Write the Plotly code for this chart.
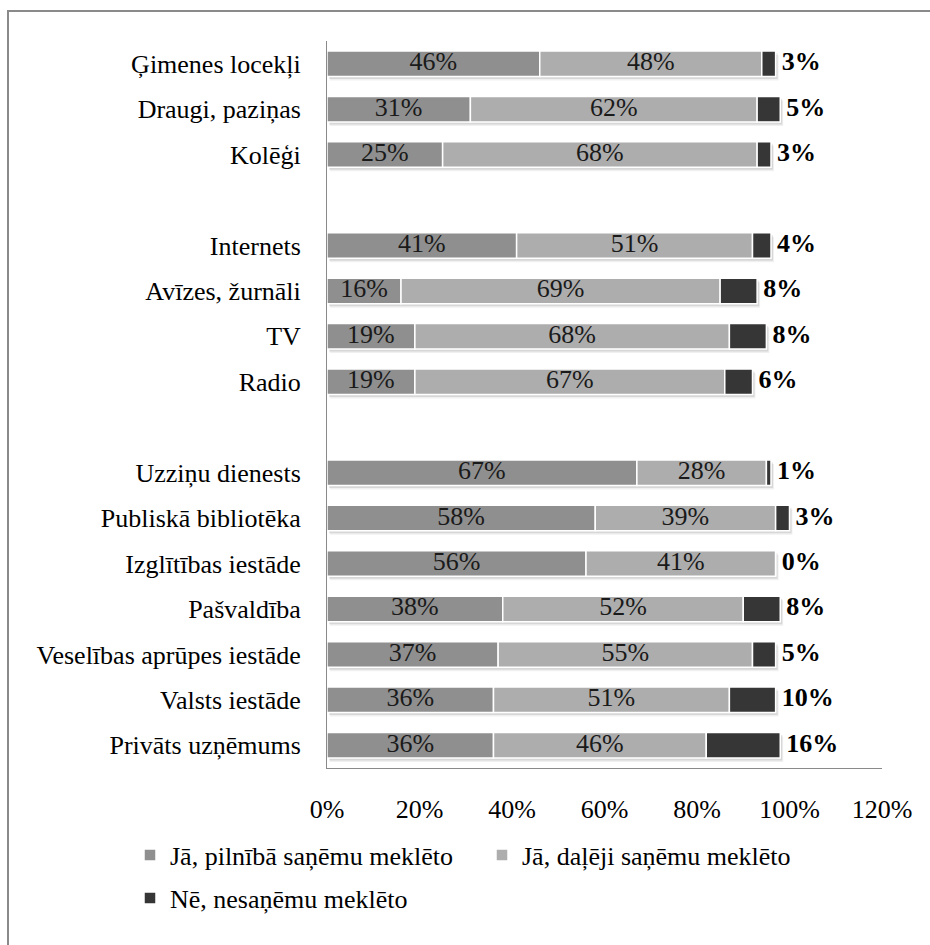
import plotly.graph_objects as go

# Source categories, top to bottom, split into three groups
group_1 = ["Ģimenes locekļi", "Draugi, paziņas", "Kolēģi"]
group_2 = ["Internets", "Avīzes, žurnāli", "TV", "Radio"]
group_3 = ["Uzziņu dienests", "Publiskā bibliotēka", "Izglītības iestāde",
           "Pašvaldība", "Veselības aprūpes iestāde", "Valsts iestāde",
           "Privāts uzņēmums"]
categories = group_1 + group_2 + group_3

# Shares of respondents, %
fully = [46, 31, 25, 41, 16, 19, 19, 67, 58, 56, 38, 37, 36, 36]
partly = [48, 62, 68, 51, 69, 68, 67, 28, 39, 41, 52, 55, 51, 46]
not_found = [3, 5, 3, 4, 8, 8, 6, 1, 3, 0, 8, 5, 10, 16]

series_names = ["Jā, pilnībā saņēmu meklēto",
                "Jā, daļēji saņēmu meklēto",
                "Nē, nesaņēmu meklēto"]
x_ticks = [0, 20, 40, 60, 80, 100, 120]
x_tick_labels = [f"{t}%" for t in x_ticks]

# ---- geometry / style ----
W, H = 930, 945
ML, MR, MT, MB = 327, 48, 41, 177
PW, PH = W - ML - MR, H - MT - MB
FONT = "Liberation Serif"
FS = 26
COLORS = ["#8f8f8f", "#adadad", "#363636"]
BAR_W = 0.56

# blank spacer rows between the groups
spacer_a, spacer_b = "\u2002", "\u2002\u2002"
row_order = group_1 + [spacer_a] + group_2 + [spacer_b] + group_3
n_rows = len(row_order)

x_max = x_ticks[-1]
ux = x_max / PW          # one pixel in x data units
uy = n_rows / PH         # one pixel in category units

series = [fully, partly, not_found]
bases = [[0] * len(categories)]
for s in series[:-1]:
    bases.append([b + v for b, v in zip(bases[-1], s)])
totals = [a + b + c for a, b, c in zip(fully, partly, not_found)]

fig = go.Figure()

# soft drop shadow under each stacked bar
for dx, dy, alpha in [(3, 4, 0.06), (2, 2.5, 0.10)]:
    fig.add_trace(go.Bar(
        y=categories, x=totals, base=[dx * ux] * len(categories),
        orientation="h", width=BAR_W, offset=-BAR_W / 2 + dy * uy,
        marker=dict(color=f"rgba(0,0,0,{alpha})", line=dict(width=0)),
        showlegend=False, hoverinfo="skip"))

# stacked segments, each series with its own legend box
legend_ids = ["legend", "legend2", "legend3"]
for i, (name, vals, base) in enumerate(zip(series_names, series, bases)):
    fig.add_trace(go.Bar(
        y=categories, x=vals, base=base, name=name, orientation="h",
        width=BAR_W,
        marker=dict(color=COLORS[i], line=dict(color="white", width=1.5)),
        legend=legend_ids[i],
        hovertemplate="%{y}: %{x}%<extra>" + name + "</extra>"))

# value labels centred inside the first two segments
for vals, base in zip(series[:2], bases[:2]):
    fig.add_trace(go.Scatter(
        y=categories, x=[b + v / 2 for b, v in zip(base, vals)],
        mode="text", text=[f"{v}%" for v in vals],
        textposition="middle center",
        textfont=dict(family=FONT, size=FS, color="#1a1a1a"),
        showlegend=False, hoverinfo="skip"))

# bold labels for the last segment, right of the bar end
fig.add_trace(go.Scatter(
    y=categories, x=totals, mode="markers+text",
    marker=dict(size=8, opacity=0),
    text=[f"{v}%" for v in not_found],
    textposition="middle right",
    textfont=dict(family=FONT, size=FS, color="#000000", weight="bold"),
    showlegend=False, hoverinfo="skip"))


def px_x(p):
    return (p - ML) / PW


def px_y(p):
    return (H - MB - p) / PH


def legend_box(x_px, y_px):
    return dict(orientation="h", x=px_x(x_px), y=px_y(y_px),
                xanchor="left", yanchor="middle",
                font=dict(family=FONT, size=FS, color="#000000"),
                bgcolor="rgba(0,0,0,0)", itemclick=False)


fig.update_layout(
    width=W, height=H,
    margin=dict(l=ML, r=MR, t=MT, b=MB),
    paper_bgcolor="white", plot_bgcolor="white",
    barmode="overlay",
    font=dict(family=FONT, size=FS, color="#000000"),
    xaxis=dict(range=[0, x_max], tickvals=x_ticks, ticktext=x_tick_labels,
               showgrid=False, zeroline=False, showline=True,
               linecolor="#8a8a8a", linewidth=1, ticks="",
               ticklabelstandoff=18,
               tickfont=dict(family=FONT, size=FS, color="#000000")),
    yaxis=dict(type="category", categoryorder="array",
               categoryarray=row_order, range=[n_rows - 0.5, -0.5],
               showgrid=False, zeroline=False, showline=True,
               linecolor="#8a8a8a", linewidth=1, ticks="",
               ticklabelstandoff=20,
               tickfont=dict(family=FONT, size=FS, color="#000000")),
    legend=legend_box(130, 855),
    legend2=legend_box(482, 855),
    legend3=legend_box(130, 898),
    shapes=[dict(type="rect", xref="paper", yref="paper",
                 x0=px_x(8), x1=px_x(960), y0=px_y(990), y1=px_y(11),
                 line=dict(color="#8a8a8a", width=2),
                 fillcolor="rgba(0,0,0,0)", layer="below")],
)

fig.write_html("out.html")
